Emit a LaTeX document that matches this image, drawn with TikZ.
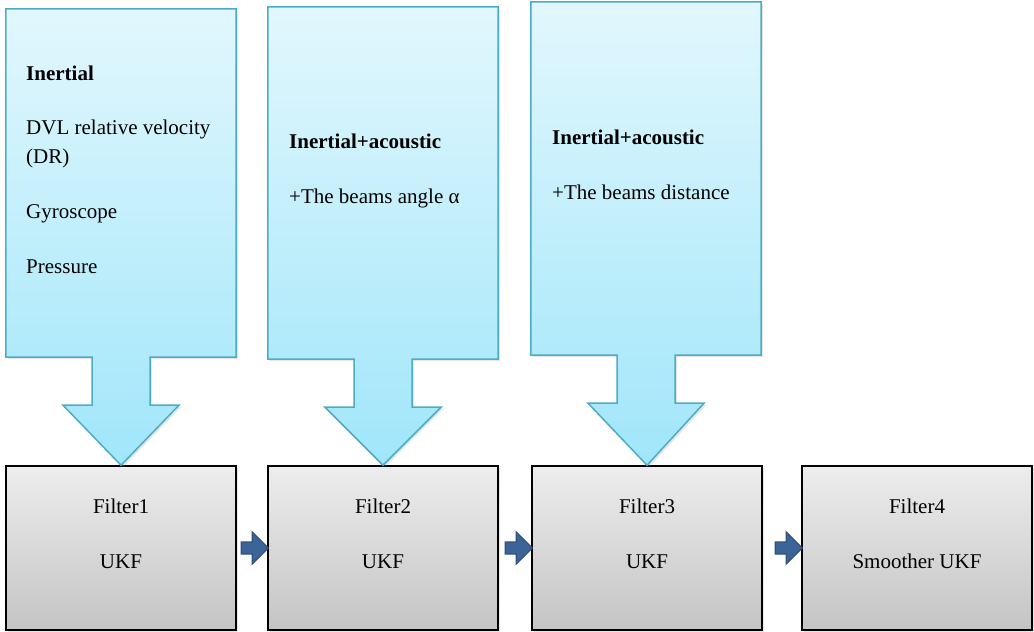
\documentclass[tikz,border=0pt]{standalone}
\usepackage{fontspec}
\setmainfont{Liberation Serif}
\usetikzlibrary{calc,shadows}

\definecolor{calloutedge}{RGB}{75,172,198}
\definecolor{callouttop}{RGB}{226,247,253}
\definecolor{calloutbottom}{RGB}{160,230,250}
\definecolor{boxtop}{RGB}{237,237,237}
\definecolor{boxbottom}{RGB}{196,196,196}
\definecolor{linkfill}{RGB}{60,100,152}
\definecolor{linkmid}{RGB}{92,140,200}
\definecolor{linkedge}{RGB}{50,82,126}

\newcommand{\calloutpath}[2]{%
	\draw[callout] (#1.north west) -- (#1.north east) -- (#1.south east)
		-- ($(#1.south)+(29,0)$) -- ($(#1.south)+(29,48)$) -- ($(#1.south)+(58,48)$)
		-- (#2.north)
		-- ($(#1.south)+(-58,48)$) -- ($(#1.south)+(-29,48)$) -- ($(#1.south)+(-29,0)$)
		-- (#1.south west) -- cycle;}
\newcommand{\linkarrow}[2]{%
	\coordinate (tip) at (#1.east -| #2.west);
	\draw[link] ($(tip)+(-26,-6)$) -- ++(11,0) -- ++(0,-10) -- ($(tip)+(1,0)$)
		-- ($(tip)+(-15,16)$) -- ++(0,-10) -- ++(-11,0) -- cycle;}

\begin{document}
\begin{tikzpicture}[x=1pt,y=-1pt,
	font=\fontsize{21}{29}\selectfont,
	area/.style={rectangle,inner sep=0,minimum width=230},
	callout/.style={draw=calloutedge,line width=1.5,top color=callouttop,bottom color=calloutbottom,
		drop shadow={opacity=0.2,shadow xshift=2pt,shadow yshift=-2pt}},
	filterbox/.style={draw,line width=1.5,top color=boxtop,bottom color=boxbottom,
		minimum width=230,minimum height=164,inner sep=0,
		drop shadow={opacity=0.2,shadow xshift=2pt,shadow yshift=-2pt}},
	link/.style={draw=linkedge,top color=linkfill,middle color=linkmid,bottom color=linkfill,
		line width=1.2,line join=miter},
	txt/.style={anchor=base west,inner sep=0},
	lbl/.style={anchor=base,inner sep=0}]
	\useasboundingbox (0,0) rectangle (1034,632);

	\node[filterbox] (f1) at (121,548) {};
	\node[filterbox] (f2) at (383,548) {};
	\node[filterbox] (f3) at (647,548) {};
	\node[filterbox] (f4) at (917,548) {};

	\node[area,minimum height=348] (c1) at (121,183) {};
	\node[area,minimum height=352] (c2) at (383,183) {};
	\node[area,minimum height=353] (c3) at (646,178.5) {};
	\calloutpath{c1}{f1}
	\calloutpath{c2}{f2}
	\calloutpath{c3}{f3}

	\linkarrow{f1}{f2}
	\linkarrow{f2}{f3}
	\linkarrow{f3}{f4}

	\node[txt] (t11) at (26,80) {\textbf{Inertial}};
	\node[txt] (t12) at (26,134) {DVL relative velocity};
	\node[txt] (t13) at (26,163) {(DR)};
	\node[txt] (t14) at (26,218) {Gyroscope};
	\node[txt] (t15) at (26,273) {Pressure};
	\node[txt] (t21) at (289,148) {\textbf{Inertial+acoustic}};
	\node[txt] (t22) at (289,203) {+The beams angle α};
	\node[txt] (t31) at (552,144) {\textbf{Inertial+acoustic}};
	\node[txt] (t32) at (552,199) {+The beams distance};

	\node[lbl] (l11) at (121,513) {Filter1};
	\node[lbl] (l12) at (121,568) {UKF};
	\node[lbl] (l21) at (383,513) {Filter2};
	\node[lbl] (l22) at (383,568) {UKF};
	\node[lbl] (l31) at (647,513) {Filter3};
	\node[lbl] (l32) at (647,568) {UKF};
	\node[lbl] (l41) at (917,513) {Filter4};
	\node[lbl] (l42) at (917,568) {Smoother UKF};
\end{tikzpicture}
\end{document}
